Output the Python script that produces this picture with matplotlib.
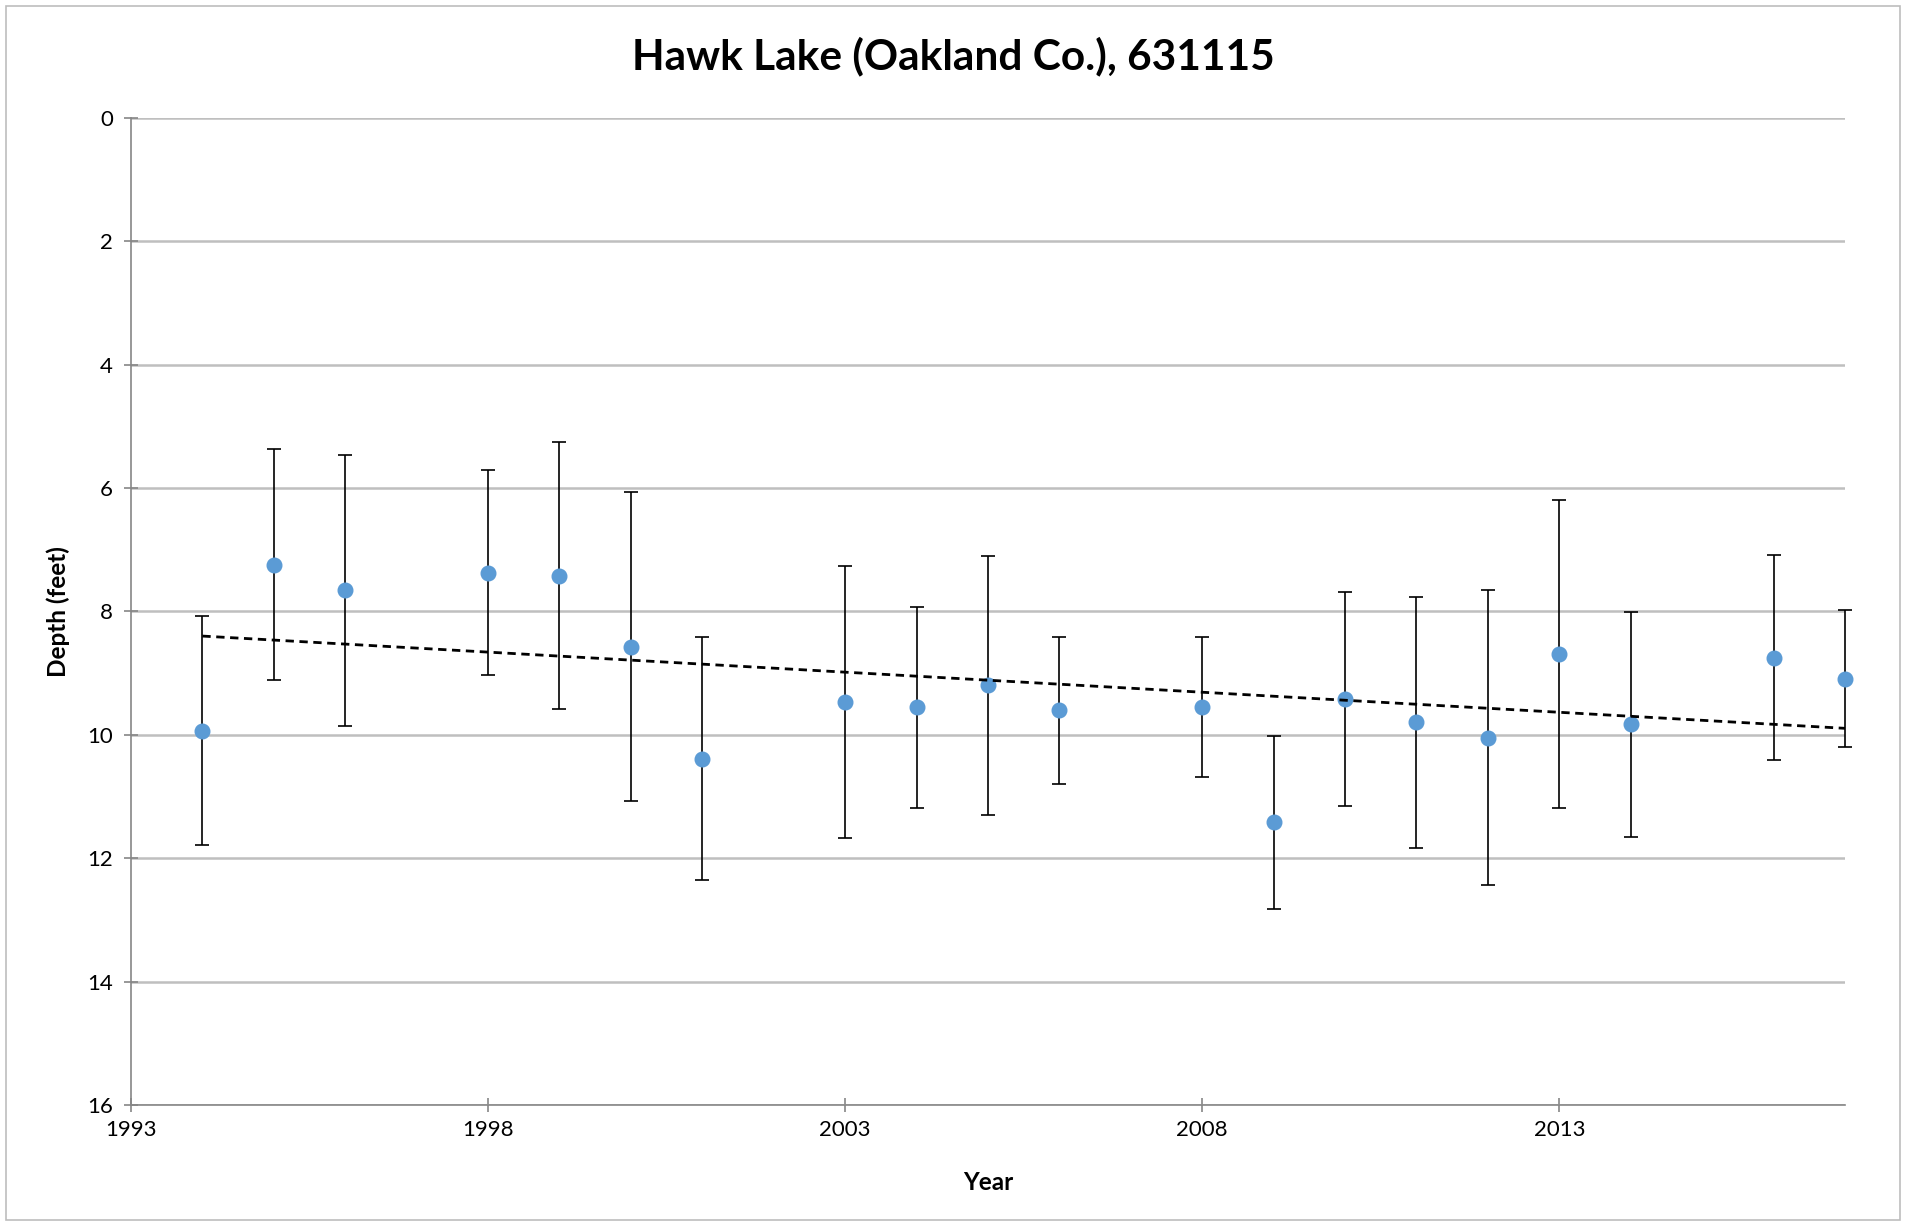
import matplotlib
matplotlib.use("Agg")
import matplotlib.pyplot as plt
import numpy as np
from matplotlib.patches import Rectangle

years = [1994, 1995, 1996, 1998, 1999, 2000, 2001, 2003, 2004, 2005, 2006,
         2008, 2009, 2010, 2011, 2012, 2013, 2014, 2016, 2017]
depth = [9.93, 7.24, 7.66, 7.37, 7.42, 8.57, 10.39, 9.47, 9.55, 9.20, 9.60,
         9.55, 11.42, 9.42, 9.80, 10.05, 8.69, 9.83, 8.75, 9.09]
err = [1.85, 1.87, 2.20, 1.66, 2.16, 2.50, 1.97, 2.20, 1.63, 2.10, 1.19,
       1.14, 1.40, 1.74, 2.04, 2.39, 2.50, 1.82, 1.66, 1.11]
xticks = [1993, 1998, 2003, 2008, 2013]
yticks = [0, 2, 4, 6, 8, 10, 12, 14, 16]
title = "Hawk Lake (Oakland Co.), 631115"

plt.rcParams['font.family'] = ['Lato', 'DejaVu Sans']

fig = plt.figure(figsize=(19.06, 12.25), dpi=100)
fig.patches.append(Rectangle((0.003, 0.004), 0.994, 0.991, transform=fig.transFigure,
                             fill=False, edgecolor='#BDBDBD', linewidth=1.2))
ax = fig.add_axes([0.0687, 0.098, 0.968 - 0.0687, 0.9037 - 0.098])

ax.set_xlim(1993, 2017)
ax.set_ylim(16, 0)
ax.set_yticks(yticks)
ax.set_xticks(xticks)
ax.grid(axis='y', color='#BFBFBF', linewidth=1.8, zorder=0)
ax.set_axisbelow(True)

for s in ['top', 'right']:
    ax.spines[s].set_visible(False)
for s in ['left', 'bottom']:
    ax.spines[s].set_color('#868686')
    ax.spines[s].set_linewidth(1.2)
ax.tick_params(axis='both', direction='inout', length=10, width=1.2, color='#868686',
               labelsize=16, pad=6)
ax.tick_params(axis='y', pad=8)

ax.errorbar(years, depth, yerr=err, fmt='o', color='#5B9BD5', markersize=10.5,
            ecolor='black', elinewidth=1.2, capsize=5, capthick=1.2, zorder=3,
            clip_on=False)

coef = np.polyfit(years, depth, 1)
tx = np.array([min(years), max(years)])
ax.plot(tx, np.polyval(coef, tx), color='black', linestyle=(0, (3, 2)), linewidth=2.0,
        zorder=4, clip_on=False)

ax.set_xlabel('Year', fontsize=17.5, fontweight='bold', labelpad=22)
ax.set_ylabel('Depth (feet)', fontsize=17.5, fontweight='bold', labelpad=12)
fig.text(0.5, 0.954, title, ha='center', va='center', fontsize=30.5, fontweight='bold')

fig.savefig('out.png', dpi=100)
